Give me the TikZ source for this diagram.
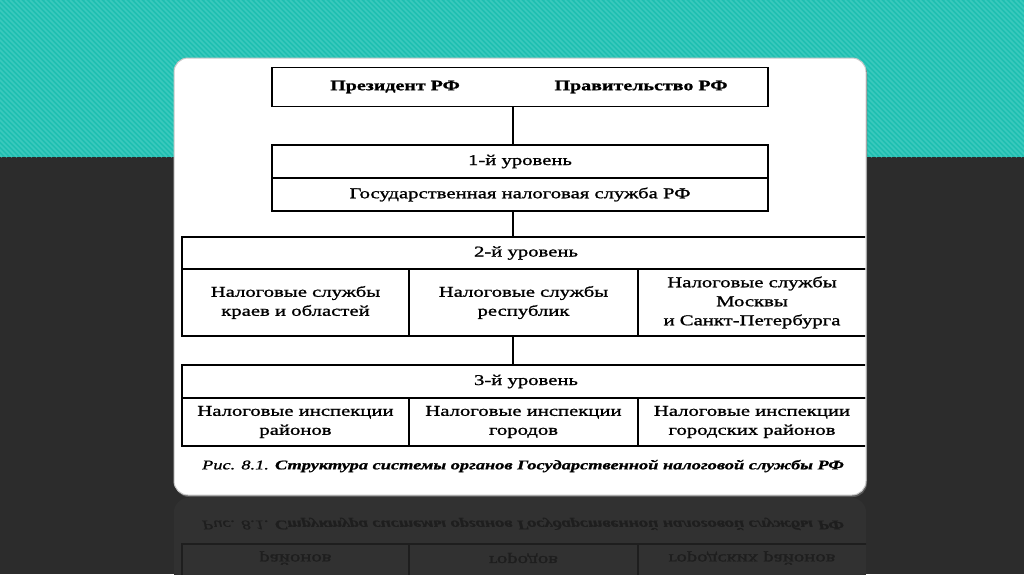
\documentclass[tikz,border=0pt]{standalone}
\usepackage{fontspec}
\setmainfont{Liberation Serif}
\newfontfamily\scan[FakeStretch=1.38,FakeBold=1.2]{Liberation Serif}
\newfontfamily\scanb[FakeStretch=1.38,FakeBold=1]{Liberation Serif}
\definecolor{tealbg}{HTML}{1FBFB1}
\definecolor{tealstripe}{HTML}{3BC9BD}
\definecolor{darkbg}{HTML}{2C2C2C}
\definecolor{reflbg}{HTML}{313131}
\definecolor{reflink}{HTML}{1E1E1E}
\definecolor{cardedge}{HTML}{C8C8C8}
\tikzset{
  box/.style={draw, line width=1.5pt, inner sep=0pt, font=\scan\fontsize{15}{19}\selectfont, align=center},
  conn/.style={line width=1.5pt},
  txt/.style={inner sep=0pt, font=\scan\fontsize{15}{19}\selectfont, align=center},
  boldtxt/.style={inner sep=0pt, font=\scanb\bfseries\fontsize{14.5}{18}\selectfont},
  captxt/.style={inner sep=0pt, font=\scanb\bfseries\itshape\fontsize{13.3}{16}\selectfont},
}
\begin{document}
\begin{tikzpicture}[x=1pt,y=-1pt]
\useasboundingbox (0,0) rectangle (1024,574);
% background
\fill[darkbg] (0,0) rectangle (1024,574);
\fill[tealbg] (0,0) rectangle (1024,157);
\begin{scope}
  \clip (0,0) rectangle (1024,157);
  \foreach \i in {-160,-155,...,1030} \draw[tealstripe, line width=1.6pt] (\i,0) -- (\i+157,157);
\end{scope}
% reflection
\begin{scope}
  \clip[rounded corners=14] (174,498) rectangle (866,620);
  \fill[reflbg] (174,498) rectangle (866,620);
  \begin{scope}[shift={(0,990)}, yscale=-1, transform shape]
    \node[captxt, text=reflink] (rcap) at (523,466) {\mdseries Рис. 8.1. \bfseries Структура системы органов Государственной налоговой службы РФ};
    \node[box, draw=reflink, minimum width=227pt, minimum height=48pt] (r31) at (295.5,422) {};
    \node[box, draw=reflink, minimum width=229pt, minimum height=48pt] (r32) at (523.5,422) {};
    \node[box, draw=reflink, minimum width=232pt, minimum height=48pt] (r33) at (754,422) {};
    \node[txt, text=reflink] (r31t) at (295.5,432) {районов};
    \node[txt, text=reflink] (r32t) at (523.5,432) {городов};
    \node[txt, text=reflink] (r33t) at (752,432) {городских районов};
  \end{scope}
\end{scope}
% card
\fill[gray!70!black, rounded corners=14] (175,60) rectangle (867,497);
\fill[white, rounded corners=14, draw=cardedge, line width=1pt] (174,58) rectangle (866,495);
\coordinate (cx) at (513,0);
% diagram
\begin{scope}
\clip (174,58) rectangle (865,495);
\node[box, minimum width=496pt, minimum height=39pt] (top) at (520,87) {};
\node[boldtxt] (pres) at (395,87) {Президент РФ};
\node[boldtxt] (gov) at (641,87) {Правительство РФ};

\node[box, minimum width=496pt, minimum height=33pt] (l1h) at (520,161.5) {1-й уровень};
\node[box, minimum width=496pt, minimum height=33pt] (l1b) at (520,194.5) {Государственная налоговая служба РФ};

\node[box, minimum width=688pt, minimum height=32pt] (l2h) at (526,253) {2-й уровень};
\node[box, minimum width=227pt, minimum height=67pt] (c21) at (295.5,302.5) {Налоговые службы\\краев и областей};
\node[box, minimum width=229pt, minimum height=67pt] (c22) at (523.5,302.5) {Налоговые службы\\республик};
\node[box, minimum width=232pt, minimum height=67pt] (c23) at (754,302.5) {};
\node[txt] (c23t) at (752,302.5) {Налоговые службы\\Москвы\\и Санкт-Петербурга};

\node[box, minimum width=688pt, minimum height=33pt] (l3h) at (526,381.5) {3-й уровень};
\node[box, minimum width=227pt, minimum height=48pt] (c31) at (295.5,422) {Налоговые инспекции\\районов};
\node[box, minimum width=229pt, minimum height=48pt] (c32) at (523.5,422) {Налоговые инспекции\\городов};
\node[box, minimum width=232pt, minimum height=48pt] (c33) at (754,422) {};
\node[txt] (c33t) at (752,422) {Налоговые инспекции\\городских районов};

\draw[conn] (top.south -| cx) -- (l1h.north -| cx);
\draw[conn] (l1b.south -| cx) -- (l2h.north -| cx);
\draw[conn] (c22.south -| cx) -- (l3h.north -| cx);

\node[captxt] (cap) at (523,466) {\mdseries Рис. 8.1. \bfseries Структура системы органов Государственной налоговой службы РФ};
\end{scope}
\end{tikzpicture}
\end{document}
